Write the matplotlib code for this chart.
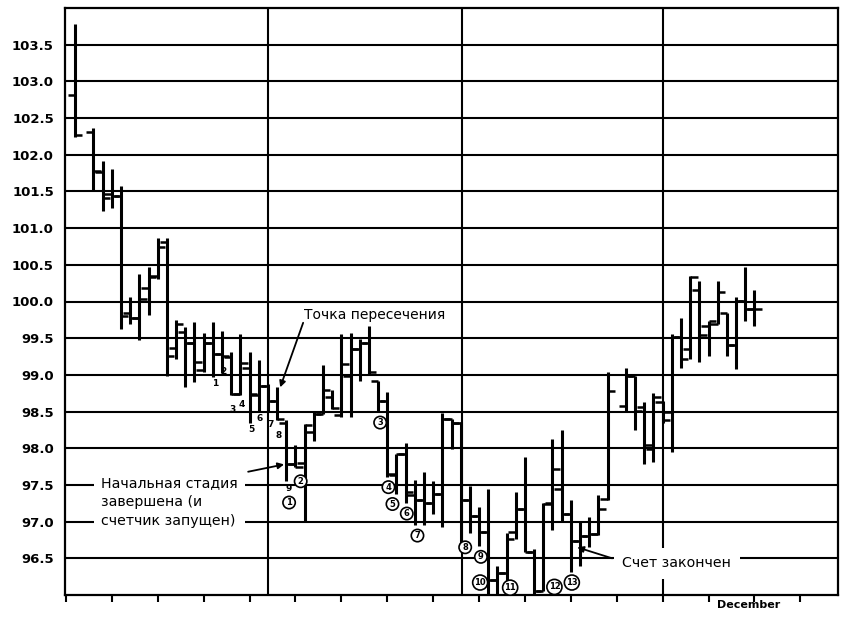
import matplotlib
matplotlib.use("Agg")
import matplotlib.pyplot as plt

# Daily OHLC bars (trading-day index on the x axis)
day = [1, 3, 4, 5, 6, 7, 8, 9, 10, 11, 12, 13, 14, 15, 16, 17, 18, 19, 20,
       21, 22, 23, 24, 25, 26, 27, 28, 29, 30, 31, 32, 33, 34, 35, 36, 37,
       38, 39, 40, 41, 42, 43, 44, 45, 46, 47, 48, 49, 50, 51, 52, 53, 54,
       55, 56, 57, 58, 59, 61, 62, 63, 64, 65, 66, 67, 68, 69, 70, 71, 72,
       73, 74, 75]
opens = [102.81, 102.31, 101.76, 101.47, 101.44, 99.84, 99.78, 100.18, 100.35,
         100.81, 99.36, 99.59, 99.43, 99.06, 99.43, 99.29, 99.24, 98.74, 99.10,
         98.73, 98.85, 98.65, 98.35, 97.79, 97.80, 98.22, 98.47, 98.70, 98.45,
         98.99, 99.35, 99.44, 98.92, 98.65, 97.64, 97.92, 97.36, 97.29, 97.26,
         97.38, 98.40, 98.35, 97.29, 97.07, 96.86, 96.20, 96.30, 96.86, 97.17,
         96.58, 96.05, 97.25, 97.45, 97.11, 96.74, 96.81, 96.83, 97.31, 98.57,
         98.99, 98.56, 97.99, 98.63, 98.49, 99.51, 99.35, 100.16, 99.66, 99.70,
         99.85, 99.41, 100.01, 99.90]
highs = [103.78, 102.36, 101.92, 101.81, 101.58, 100.06, 100.37, 100.47, 100.87,
         100.87, 99.75, 99.65, 99.72, 99.57, 99.72, 99.60, 99.31, 99.56, 99.31,
         99.20, 98.88, 98.83, 98.38, 98.04, 98.33, 98.49, 99.13, 98.79, 99.56,
         99.57, 99.49, 99.67, 98.92, 98.76, 97.92, 98.07, 97.57, 97.67, 97.56,
         98.48, 98.40, 98.36, 97.48, 97.20, 97.45, 96.40, 96.84, 97.40, 97.88,
         96.63, 97.25, 98.13, 98.25, 97.29, 96.99, 97.06, 97.36, 99.04, 99.10,
         98.99, 98.63, 98.75, 98.65, 99.56, 99.78, 100.35, 100.28, 99.74, 100.28,
         99.85, 100.06, 100.47, 100.15]
lows = [102.24, 101.51, 101.24, 101.27, 99.63, 99.70, 99.48, 99.81, 100.31,
        98.99, 99.22, 98.83, 98.90, 99.04, 98.97, 99.02, 98.72, 98.72, 98.35,
        98.51, 98.50, 98.38, 97.55, 97.74, 97.00, 98.10, 98.47, 98.54, 98.42,
        98.42, 98.92, 99.01, 98.51, 97.61, 97.38, 97.26, 96.95, 96.95, 97.11,
        96.92, 97.99, 96.70, 96.85, 96.67, 96.02, 96.02, 96.02, 96.77, 96.58,
        96.02, 96.05, 96.88, 96.99, 96.31, 96.40, 96.65, 96.82, 97.29, 98.51,
        98.25, 97.78, 97.81, 98.35, 97.95, 99.10, 99.22, 99.17, 99.26, 99.70,
        99.26, 99.08, 99.74, 99.67]
closes = [102.27, 101.78, 101.41, 101.44, 99.80, 99.78, 100.03, 100.34, 100.74,
          99.26, 99.70, 99.43, 99.17, 99.43, 99.29, 99.26, 98.74, 99.16, 98.74,
          98.85, 98.65, 98.40, 97.79, 97.74, 98.32, 98.47, 98.79, 98.55, 99.15,
          99.35, 99.44, 99.04, 98.65, 97.65, 97.92, 97.40, 97.29, 97.26, 97.38,
          98.40, 98.35, 97.29, 97.07, 96.86, 96.21, 96.30, 96.77, 97.17, 96.58,
          96.05, 97.24, 97.72, 97.11, 96.73, 96.81, 96.83, 97.17, 98.78, 98.99,
          98.51, 98.04, 98.70, 98.38, 99.51, 99.22, 100.34, 99.54, 99.74, 100.13,
          99.41, 100.01, 99.90, 99.90]

price_ticks = [96.5, 97.0, 97.5, 98.0, 98.5, 99.0, 99.5, 100.0, 100.5,
               101.0, 101.5, 102.0, 102.5, 103.0, 103.5]
week_ticks = list(range(0, 81, 5))
month_lines = [22, 43.1, 65]

# TD setup count (1-9) and countdown count (1-13) labels
setup_labels = ["1", "2", "3", "4", "5", "6", "7", "8", "9"]
setup_pos = [(16.25, 98.88), (17.18, 99.05), (18.18, 98.53), (19.16, 98.60),
             (20.17, 98.26), (21.15, 98.41), (22.24, 98.32), (23.13, 98.17),
             (24.24, 97.45)]
count_labels = ["1", "2", "3", "4", "5", "6", "7", "8", "9", "10", "11", "12", "13"]
count_pos = [(24.31, 97.26), (25.57, 97.55), (34.23, 98.35), (35.13, 97.47),
             (35.57, 97.24), (37.13, 97.11), (38.29, 96.81), (43.49, 96.65),
             (45.20, 96.52), (45.12, 96.17), (48.39, 96.10), (53.21, 96.11),
             (55.11, 96.17)]

fig = plt.figure(figsize=(8.52, 6.25), dpi=100)
ax = fig.add_axes([65 / 852, 1 - 595 / 625, (838 - 65) / 852, (595 - 8) / 625])
ax.set_xlim(-0.1, 84.1)
ax.set_ylim(96.0, 104.0)

# grid
ax.set_yticks(price_ticks)
ax.set_yticklabels([f"{v:.1f}" for v in price_ticks])
ax.grid(axis="y", color="black", lw=1.5, zorder=0.5)
for m in month_lines:
    ax.axvline(m, color="black", lw=1.5, zorder=0.5)
ax.set_axisbelow(True)

ax.set_xticks(week_ticks)
ax.set_xticklabels([])
ax.tick_params(axis="x", direction="out", length=5, width=1.5, color="black")
ax.tick_params(axis="y", length=0, pad=8)
for lab in ax.get_yticklabels():
    lab.set_fontweight("bold")
    lab.set_fontsize(9.5)
    lab.set_family("DejaVu Sans")

for s in ax.spines.values():
    s.set_linewidth(1.6)
    s.set_color("black")

# OHLC bars
tick = 0.8
ax.vlines(day, lows, highs, color="black", lw=2.2, zorder=2)
ax.hlines(opens, [d - tick for d in day], day, color="black", lw=1.8, zorder=2)
ax.hlines(closes, day, [d + tick for d in day], color="black", lw=1.8, zorder=2)

# setup digits
for t, (x, y) in zip(setup_labels, setup_pos):
    ax.text(x, y, t, ha="center", va="center", fontsize=6.5,
            fontweight="bold", zorder=4)

# circled countdown digits
for t, (x, y) in zip(count_labels, count_pos):
    ax.text(x, y, t, ha="center", va="center", fontsize=6,
            fontweight="bold", zorder=5,
            bbox=dict(boxstyle="circle,pad=0.2", fc="white", ec="black", lw=1.2))

arrow = dict(arrowstyle="-|>", lw=1.3, color="black", mutation_scale=9,
             shrinkA=0, shrinkB=0)

ax.text(25.9, 99.81, "Точка пересечения", ha="left", va="center",
        fontsize=10, zorder=4)
ax.annotate("", xy=(23.34, 98.83), xytext=(25.84, 99.71),
            arrowprops=arrow, zorder=4)

ax.text(3.85, 97.27, "Начальная стадия\nзавершена (и\nсчетчик запущен)",
        ha="left", va="center", fontsize=10.2, linespacing=1.45, zorder=4,
        bbox=dict(boxstyle="square,pad=0.5", fc="white", ec="none"))
ax.annotate("", xy=(23.77, 97.78), xytext=(19.85, 97.68),
            arrowprops=arrow, zorder=4)

ax.text(60.6, 96.43, "Счет закончен", ha="left", va="center",
        fontsize=10.2, zorder=4,
        bbox=dict(boxstyle="square,pad=0.6", fc="white", ec="none"))
ax.annotate("", xy=(55.7, 96.65), xytext=(59.5, 96.5),
            arrowprops=arrow, zorder=4)

ax.text(74.4, 95.86, "December", ha="center", va="center", fontsize=8,
        fontweight="bold", clip_on=False)

fig.savefig("out.png", dpi=100)
